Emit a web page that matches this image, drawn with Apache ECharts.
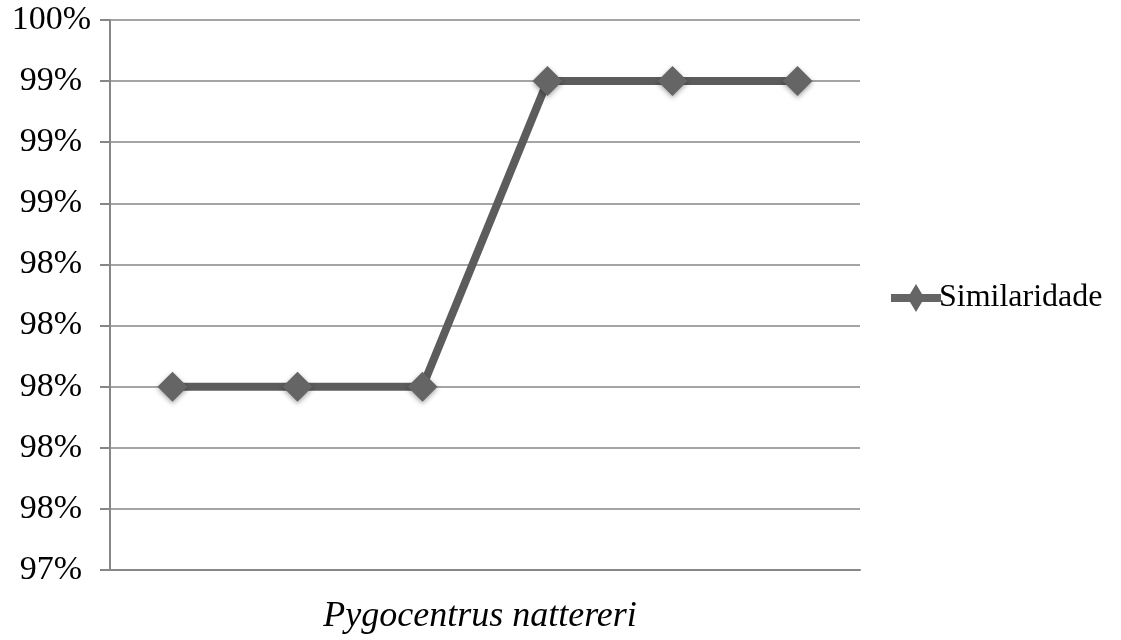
<!DOCTYPE html>
<html>
<head>
<meta charset="utf-8">
<script src="https://cdn.jsdelivr.net/npm/echarts@6/dist/echarts.min.js"></script>
<style>
  html, body { margin: 0; padding: 0; background: #fff; overflow: hidden; }
  #chart { width: 1121px; height: 640px; }
</style>
</head>
<body>
<div id="chart"></div>
<script>
// Sample positions along the x axis (unlabelled categories)
const categories = ['1', '2', '3', '4', '5', '6'];
// Similarity per sample, as a fraction
const similaridade = [0.980, 0.980, 0.980, 0.990, 0.990, 0.990];
// Y axis labels as printed, bottom to top (percent format rounds to whole numbers)
const yTickLabels = ['97%', '98%', '98%', '98%', '98%', '98%', '99%', '99%', '99%', '100%'];
const yMin = 0.974;
const yStep = 0.002;

const serif = '"Liberation Serif", "DejaVu Serif", serif';
const gridGray = '#878787';
const lineGray = '#5c5c5c';

const chart = echarts.init(document.getElementById('chart'));
chart.setOption({
  animation: false,
  backgroundColor: '#ffffff',
  grid: { left: 110, top: 20, width: 750, height: 559, containLabel: false },
  legend: {
    data: ['Similaridade'],
    orient: 'vertical',
    left: 886,
    top: 277,
    itemWidth: 50,
    itemHeight: 28,
    textStyle: { fontFamily: serif, fontSize: 32, color: '#000', padding: [0, 0, 0, -7] },
    icon: 'path://M0,10 L19,10 L25,0 L31,10 L50,10 L50,18 L31,18 L25,28 L19,18 L0,18 Z'
  },
  xAxis: {
    type: 'category',
    data: categories,
    boundaryGap: true,
    name: 'Pygocentrus nattereri',
    nameLocation: 'middle',
    nameGap: 29,
    nameTextStyle: { fontFamily: serif, fontSize: 36, fontStyle: 'italic', color: '#000', padding: [0, 10, 0, 0] },
    axisLine: { lineStyle: { color: gridGray, width: 2 } },
    axisTick: { show: false },
    axisLabel: { show: false },
    splitLine: { show: false }
  },
  yAxis: {
    type: 'value',
    min: yMin,
    max: yMin + yStep * (yTickLabels.length - 1),
    interval: yStep,
    axisLine: { show: true, lineStyle: { color: gridGray, width: 2 } },
    axisTick: { show: true, length: 10, inside: false, lineStyle: { color: gridGray, width: 2 } },
    axisLabel: {
      fontFamily: serif,
      fontSize: 34,
      color: '#000',
      margin: 19,
      formatter: function (v) {
        const i = Math.round((v - yMin) / yStep);
        const t = yTickLabels[i] !== undefined ? yTickLabels[i] : '';
        // the top label sits a little further right than the rest
        return i === yTickLabels.length - 1 ? '{top|' + t + '}' : '{std|' + t + '}';
      },
      rich: {
        top: { fontFamily: serif, fontSize: 34, color: '#000' },
        std: { fontFamily: serif, fontSize: 34, color: '#000', padding: [0, 9, 0, 0] }
      }
    },
    splitLine: { show: true, lineStyle: { color: gridGray, width: 1.5 } }
  },
  series: [{
    name: 'Similaridade',
    type: 'line',
    data: similaridade,
    symbol: 'diamond',
    symbolSize: [30, 30],
    showAllSymbol: true,
    lineStyle: { color: lineGray, width: 8 },
    itemStyle: {
      color: '#656565',
      shadowColor: 'rgba(0,0,0,0.35)',
      shadowBlur: 5,
      shadowOffsetY: 2
    },
    z: 3
  }]
});
</script>
</body>
</html>
